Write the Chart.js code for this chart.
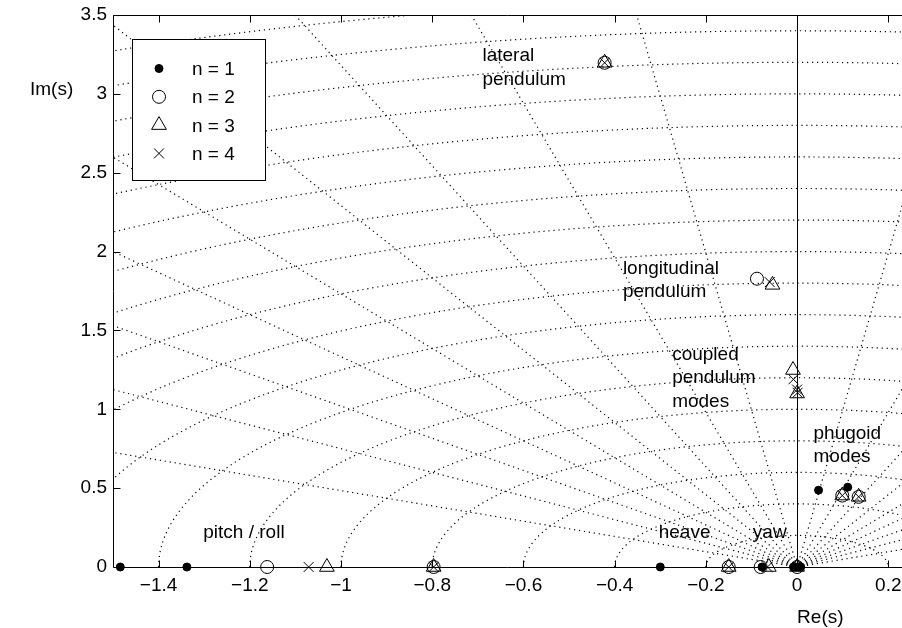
<!DOCTYPE html>
<html>
<head>
<meta charset="utf-8">
<script src="https://cdn.jsdelivr.net/npm/chart.js@4.4.1/dist/chart.umd.min.js"></script>
<style>
  html, body { margin: 0; padding: 0; background: #fff; overflow: hidden; }
  #wrap { width: 902px; height: 628px; position: relative; }
  canvas { display: block; }
</style>
</head>
<body>
<div id="wrap"><canvas id="poles"></canvas></div>
<script>
// Closed-loop pole locations (real and imaginary parts) for n = 1..4 pendulum masses
const n1Re = [-1.484, -1.338, -0.300, -0.077, -0.008, -0.003, 0.003, 0.008, 0.047, 0.111];
const n1Im = [0, 0, 0, 0, 0, 0, 0, 0, 0.487, 0.506];

const n2Re = [-1.162, -0.797, -0.150, -0.080, 0.000, -0.088, -0.422, 0.099, 0.135];
const n2Im = [0, 0, 0, 0, 0, 1.828, 3.197, 0.453, 0.445];

const n3Re = [-1.031, -0.797, -0.150, -0.062, 0.000, -0.054, -0.009, 0.000, -0.422, 0.099, 0.135];
const n3Im = [0, 0, 0, 0, 0, 1.789, 1.249, 1.100, 3.197, 0.453, 0.445];

const n4Re = [-1.071, -0.797, -0.150, -0.065, 0.000, -0.060, -0.008, 0.000, 0.001, -0.422, 0.099, 0.135];
const n4Im = [0, 0, 0, 0, 0, 1.806, 1.190, 1.125, 1.105, 3.197, 0.453, 0.445];

const seriesLabels = ['n = 1', 'n = 2', 'n = 3', 'n = 4'];

// s-plane grid: constant damping rays and constant natural-frequency circles
const dampingRatios = [-0.9, -0.8, -0.7, -0.6, -0.5, -0.4, -0.3, -0.2, -0.1,
                       0.1, 0.2, 0.3, 0.4, 0.5, 0.6, 0.7, 0.8, 0.9];
const naturalFreqs = [0.2, 0.4, 0.6, 0.8, 1.0, 1.2, 1.4, 1.6, 1.8, 2.0,
                      2.2, 2.4, 2.6, 2.8, 3.0, 3.2, 3.4, 3.6, 3.8, 4.0];

// Axis ticks
const xTicks = [-1.4, -1.2, -1, -0.8, -0.6, -0.4, -0.2, 0, 0.2];
const yTicks = [0, 0.5, 1, 1.5, 2, 2.5, 3, 3.5];

// Mode annotations: text lines anchored at (Re, Im) of the first baseline
const modeNotes = [
  { lines: ['lateral', 'pendulum'], re: -0.690, im: 3.206 },
  { lines: ['longitudinal', 'pendulum'], re: -0.382, im: 1.860 },
  { lines: ['coupled', 'pendulum', 'modes'], re: -0.274, im: 1.313 },
  { lines: ['phugoid', 'modes'], re: 0.036, im: 0.812 },
  { lines: ['pitch / roll'], re: -1.302, im: 0.182 },
  { lines: ['heave'], re: -0.3035, im: 0.182 },
  { lines: ['yaw'], re: -0.097, im: 0.182 }
];

const FONT = "'Liberation Sans', Arial, Helvetica, sans-serif";
const FONT_SIZE = 19;

function zip(re, im) { return re.map((v, i) => ({ x: v, y: im[i] })); }
function fmt(v) { return String(v).replace('-', '\u2212'); }

const datasets = [
  { label: seriesLabels[0], data: zip(n1Re, n1Im), pointStyle: 'circle', pointRadius: 4,
    backgroundColor: '#000', borderColor: '#000', borderWidth: 1 },
  { label: seriesLabels[1], data: zip(n2Re, n2Im), pointStyle: 'circle', pointRadius: 6.5,
    backgroundColor: 'rgba(0,0,0,0)', borderColor: '#000', borderWidth: 1 },
  { label: seriesLabels[2], data: zip(n3Re, n3Im), pointStyle: 'triangle', pointRadius: 8.5,
    backgroundColor: 'rgba(0,0,0,0)', borderColor: '#000', borderWidth: 1 },
  { label: seriesLabels[3], data: zip(n4Re, n4Im), pointStyle: 'crossRot', pointRadius: 7,
    backgroundColor: 'rgba(0,0,0,0)', borderColor: '#000', borderWidth: 1 }
].map(d => Object.assign(d, { clip: false, pointHoverRadius: d.pointRadius }));

// Dotted s-plane grid behind the poles
const sGrid = {
  id: 'sGrid',
  beforeDatasetsDraw(chart) {
    const { ctx, chartArea: a, scales: { x, y } } = chart;
    const ox = x.getPixelForValue(0), oy = y.getPixelForValue(0);
    const sx = x.getPixelForValue(1) - ox, sy = oy - y.getPixelForValue(1);
    ctx.save();
    ctx.beginPath();
    ctx.rect(a.left, a.top, a.right - a.left, a.bottom - a.top);
    ctx.clip();
    ctx.strokeStyle = '#000';
    ctx.lineWidth = 1.2;
    ctx.setLineDash([1.2, 3.8]);
    naturalFreqs.forEach(w => {
      ctx.beginPath();
      ctx.ellipse(ox, oy, w * sx, w * sy, 0, Math.PI, 2 * Math.PI);
      ctx.stroke();
    });
    const reach = 20;
    dampingRatios.forEach(z => {
      ctx.beginPath();
      ctx.moveTo(ox, oy);
      ctx.lineTo(x.getPixelForValue(-z * reach), y.getPixelForValue(Math.sqrt(1 - z * z) * reach));
      ctx.stroke();
    });
    // imaginary axis (zero damping)
    ctx.setLineDash([]);
    ctx.lineWidth = 1;
    ctx.beginPath();
    ctx.moveTo(Math.round(ox) + 0.5, a.top);
    ctx.lineTo(Math.round(ox) + 0.5, a.bottom);
    ctx.stroke();
    ctx.restore();
  }
};

function drawMarker(ctx, ds, px, py) {
  ctx.save();
  ctx.fillStyle = ds.backgroundColor;
  ctx.strokeStyle = ds.borderColor;
  ctx.lineWidth = ds.borderWidth;
  const opts = { pointStyle: ds.pointStyle, radius: ds.pointRadius, borderWidth: ds.borderWidth, rotation: 0 };
  if (Chart.helpers && Chart.helpers.drawPoint) {
    Chart.helpers.drawPoint(ctx, opts, px, py);
  }
  ctx.restore();
}

// Frame, inward ticks, Re tick labels, annotations, axis names and the legend box
const decorations = {
  id: 'decorations',
  afterDatasetsDraw(chart) {
    const { ctx, chartArea: a, scales: { x, y } } = chart;
    ctx.save();
    ctx.strokeStyle = '#000';
    ctx.lineWidth = 1;
    ctx.setLineDash([]);
    const L = Math.round(a.left) + 0.5, T = Math.round(a.top) + 0.5, B = Math.round(a.bottom) + 0.5;
    ctx.beginPath();
    ctx.moveTo(a.right, T); ctx.lineTo(L, T); ctx.lineTo(L, B); ctx.lineTo(a.right, B);
    ctx.stroke();
    const tick = 7;
    ctx.beginPath();
    xTicks.forEach(v => {
      const px = Math.round(x.getPixelForValue(v)) + 0.5;
      ctx.moveTo(px, B); ctx.lineTo(px, B - tick);
      ctx.moveTo(px, T); ctx.lineTo(px, T + tick);
    });
    yTicks.forEach(v => {
      const py = Math.round(y.getPixelForValue(v)) + 0.5;
      ctx.moveTo(L, py); ctx.lineTo(L + tick, py);
    });
    ctx.stroke();

    ctx.fillStyle = '#000';
    ctx.font = FONT_SIZE + 'px ' + FONT;
    ctx.textBaseline = 'alphabetic';

    // Re(s) tick labels
    ctx.textAlign = 'center';
    xTicks.forEach(v => ctx.fillText(fmt(v), x.getPixelForValue(v), a.bottom + 24));

    ctx.textAlign = 'left';
    modeNotes.forEach(n => {
      const px = x.getPixelForValue(n.re), py = y.getPixelForValue(n.im);
      n.lines.forEach((t, i) => ctx.fillText(t, px, py + i * 23.3));
    });

    // axis names
    ctx.fillText('Im(s)', 30, 95);
    ctx.fillText('Re(s)', x.getPixelForValue(0), 623);

    // legend
    const bx = Math.round(a.left) + 19.5, by = Math.round(a.top) + 24.5, bw = 133, bh = 141;
    ctx.fillStyle = '#fff';
    ctx.fillRect(bx, by, bw, bh);
    ctx.strokeStyle = '#000';
    ctx.strokeRect(bx, by, bw, bh);
    chart.data.datasets.forEach((ds, i) => {
      const ry = by + 29 + i * 28.3;
      drawMarker(ctx, ds, bx + 26.5, ry);
      ctx.fillStyle = '#000';
      ctx.font = FONT_SIZE + 'px ' + FONT;
      ctx.fillText(ds.label, bx + 59.5, ry + 6.5);
    });
    ctx.restore();
  }
};

new Chart(document.getElementById('poles'), {
  type: 'scatter',
  data: { datasets },
  options: {
    responsive: true,
    maintainAspectRatio: false,
    devicePixelRatio: 1,
    animation: false,
    events: [],
    layout: { autoPadding: false, padding: { top: 15, left: 0, right: 0, bottom: 0 } },
    plugins: { legend: { display: false }, tooltip: { enabled: false } },
    scales: {
      x: {
        type: 'linear', position: 'bottom', min: -1.5, max: 0.230,
        afterBuildTicks: s => { s.ticks = xTicks.map(v => ({ value: v })); },
        afterFit: s => { s.height = 61; s.paddingLeft = 0; s.paddingRight = 0; },
        grid: { display: false, drawTicks: false, tickLength: 0 },
        border: { display: false },
        ticks: { display: false }
      },
      y: {
        type: 'linear', position: 'left', min: 0, max: 3.5,
        afterBuildTicks: s => { s.ticks = yTicks.map(v => ({ value: v })); },
        afterFit: s => { s.width = 113; s.paddingTop = 0; s.paddingBottom = 0; },
        grid: { display: false, drawTicks: false, tickLength: 0 },
        border: { display: false },
        ticks: { color: '#000', padding: 6, autoSkip: false,
                 font: { family: FONT, size: FONT_SIZE }, callback: v => fmt(v) }
      }
    }
  },
  plugins: [sGrid, decorations]
});
</script>
</body>
</html>
